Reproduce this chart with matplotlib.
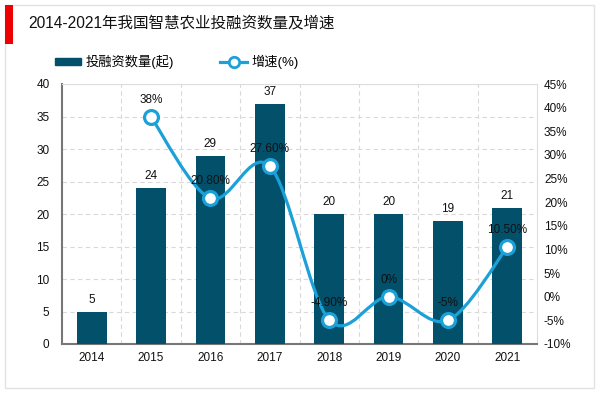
import matplotlib
matplotlib.use("Agg")
import matplotlib.pyplot as plt
from matplotlib.path import Path
from matplotlib.patches import PathPatch, Rectangle
from matplotlib.lines import Line2D
import numpy as np

plt.rcParams['font.family'] = ['Liberation Sans', 'Noto Sans CJK SC', 'DejaVu Sans']

years = ['2014', '2015', '2016', '2017', '2018', '2019', '2020', '2021']
counts = [5, 24, 29, 37, 20, 20, 19, 21]
growth = [None, 38, 20.8, 27.6, -4.9, 0, -5, 10.5]
growth_labels = ['', '38%', '20.80%', '27.60%', '-4.90%', '0%', '-5%', '10.50%']
title = '2014-2021年我国智慧农业投融资数量及增速'
bar_name = '投融资数量(起)'
line_name = '增速(%)'

bar_color = '#03506B'
line_color = '#1BA1D8'

fig = plt.figure(figsize=(6.0, 3.93), dpi=100)
# outer light border
fig.patches.append(Rectangle((5/600, 5/393), 589/600, 383/393, transform=fig.transFigure,
                             fill=False, edgecolor='#E2E2E2', linewidth=1.0))
# red accent
fig.patches.append(Rectangle((5/600, 1-44/393), 8/600, 39/393, transform=fig.transFigure,
                             color='#EE0000', linewidth=0))
fig.text(28/600, 1-23/393, title, fontsize=11.2, va='center', ha='left', color='#111111')

ax = fig.add_axes([62/600, 1-344/393, 475/600, 260/393])
x = np.arange(len(years))
ax.bar(x, counts, width=0.5, color=bar_color, zorder=3)
for xi, c in zip(x, counts):
    ax.annotate(str(c), (xi, c), xytext=(0, 4), textcoords='offset points',
                ha='center', va='bottom', fontsize=8.5, color='#111111', zorder=6)

ax.set_xlim(-0.5, len(years) - 0.5)
ax.set_ylim(0, 40)
ax.set_yticks(np.arange(0, 41, 5))
ax.set_xticks(x)
ax.set_xticklabels(years)
ax.tick_params(axis='both', length=0, labelsize=8.5, colors='#111111', pad=6)
ax.tick_params(axis='y', pad=9)
ax.set_xticks(np.arange(0.5, len(years) - 0.5, 1), minor=True)
ax.tick_params(axis='x', which='minor', length=0)
ax.grid(axis='y', which='major', linestyle=(0, (4, 3)), color='#D9D9D9', linewidth=0.8, zorder=0)
ax.grid(axis='x', which='minor', linestyle=(0, (4, 3)), color='#D9D9D9', linewidth=0.8, zorder=0)
ax.grid(axis='x', which='major', visible=False)
for s in ['top', 'right']:
    ax.spines[s].set_color('#DDDDDD')
    ax.spines[s].set_linewidth(0.8)
for s in ['left', 'bottom']:
    ax.spines[s].set_color('#777777')
    ax.spines[s].set_linewidth(1.5)

ax2 = ax.twinx()
ax2.set_ylim(-10, 45)
ax2.set_yticks(np.arange(-10, 46, 5))
ax2.set_yticklabels([f'{v}%' for v in range(-10, 46, 5)])
ax2.tick_params(axis='y', length=0, labelsize=8.5, colors='#111111', pad=5)
for s in ax2.spines.values():
    s.set_visible(False)

# smooth curve through growth points (Catmull-Rom as Bezier)
gx = np.array([xi for xi, g in zip(x, growth) if g is not None], dtype=float)
gy = np.array([g for g in growth if g is not None], dtype=float)
n = len(gx)
verts = [(gx[0], gy[0])]
codes = [Path.MOVETO]
for i in range(n - 1):
    p0 = np.array([gx[max(i - 1, 0)], gy[max(i - 1, 0)]])
    p1 = np.array([gx[i], gy[i]])
    p2 = np.array([gx[i + 1], gy[i + 1]])
    p3 = np.array([gx[min(i + 2, n - 1)], gy[min(i + 2, n - 1)]])
    c1 = p1 + (p2 - p0) / 6.0
    c2 = p2 - (p3 - p1) / 6.0
    verts += [tuple(c1), tuple(c2), tuple(p2)]
    codes += [Path.CURVE4] * 3
ax2.add_patch(PathPatch(Path(verts, codes), facecolor='none', edgecolor=line_color,
                        linewidth=2.3, zorder=4, capstyle='round'))
ax2.plot(gx, gy, linestyle='none', marker='o', markersize=10, markerfacecolor='white',
         markeredgecolor=line_color, markeredgewidth=2.3, zorder=5)
for xi, g, lab in zip(x, growth, growth_labels):
    if g is None:
        continue
    ax2.annotate(lab, (xi, g), xytext=(0, 8), textcoords='offset points',
                 ha='center', va='bottom', fontsize=8.5, color='#111111', zorder=6)

handles = [Rectangle((0, 0), 1, 1, color=bar_color),
           Line2D([0], [0], color=line_color, linewidth=2.3, marker='o', markersize=7.5,
                  markerfacecolor='white', markeredgecolor=line_color, markeredgewidth=2)]
fig.legend(handles, [bar_name, line_name], loc='center left',
           bbox_to_anchor=(43/600, 1-62/393), ncol=2, frameon=False, fontsize=9.5,
           handlelength=2.0, handleheight=0.5, columnspacing=3.5, handletextpad=0.35)

fig.savefig('out.png', dpi=100)
